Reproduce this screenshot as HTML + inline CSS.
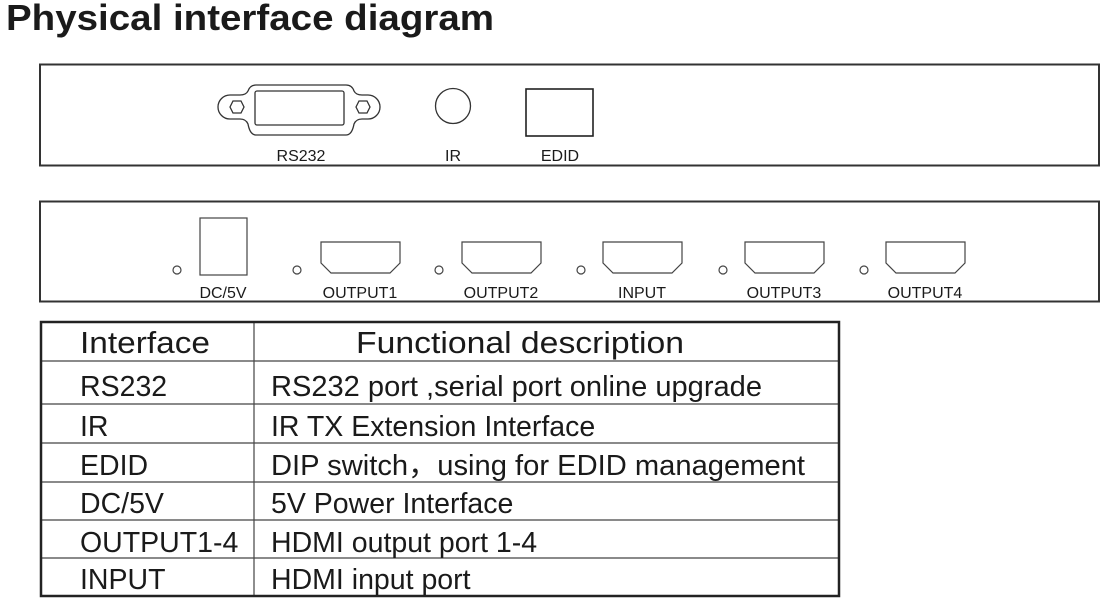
<!DOCTYPE html>
<html><head><meta charset="utf-8"><style>
html,body{margin:0;padding:0;background:#fff;}
svg{display:block;}
text{font-family:"Liberation Sans","Noto Sans CJK SC",sans-serif;fill:#1a1a1a;}
</style></head><body>
<svg width="1112" height="600" viewBox="0 0 1112 600" xmlns="http://www.w3.org/2000/svg">
<text x="6" y="30" font-size="36" font-weight="bold" textLength="488" lengthAdjust="spacingAndGlyphs">Physical interface diagram</text>
<!-- panel 1 -->
<rect x="40" y="64.5" width="1059" height="101" fill="none" stroke="#333" stroke-width="2"/>
<g fill="none" stroke="#333" stroke-width="1.3">
<path d="M256,85 L346,85 Q352,85 354,91 Q356,95 362,95 L368,95 A12,12 0 0 1 368,119 L362,119 Q356,119 354,124 Q352,135 346,135 L256,135 Q250,135 248,124 Q246,119 240,119 L230,119 A12,12 0 0 1 230,95 L240,95 Q246,95 248,91 Q250,85 256,85 Z"/>
<rect x="255" y="91" width="89" height="34" rx="2"/>
<polygon points="230,107 233,101 241,101 244,107 241,113 233,113"/>
<polygon points="356,107 359,101 367,101 370,107 367,113 359,113"/>
<circle cx="453" cy="106" r="17.5"/>
<rect x="526" y="89" width="67" height="47" stroke="#222" stroke-width="1.6"/>
</g>
<text x="301" y="161" font-size="16" text-anchor="middle">RS232</text>
<text x="453" y="161" font-size="16" text-anchor="middle">IR</text>
<text x="560" y="161" font-size="16" text-anchor="middle">EDID</text>
<!-- panel 2 -->
<rect x="40" y="201.5" width="1059" height="100" fill="none" stroke="#333" stroke-width="2"/>
<g fill="none" stroke="#444" stroke-width="1.2">
<rect x="200" y="218" width="47" height="57"/>
<circle cx="177" cy="270" r="4"/>
<circle cx="297" cy="270" r="4"/><circle cx="439" cy="270" r="4"/><circle cx="581" cy="270" r="4"/><circle cx="723" cy="270" r="4"/><circle cx="864" cy="270" r="4"/>
<g id="h"><path d="M321,242 L400,242 L400,263 L390,273 L331,273 L321,263 Z"/></g>
<use href="#h" x="141"/><use href="#h" x="282"/><use href="#h" x="424"/><use href="#h" x="565"/>
</g>
<text x="223" y="298" font-size="16" text-anchor="middle">DC/5V</text>
<text x="360" y="298" font-size="16" text-anchor="middle">OUTPUT1</text>
<text x="501" y="298" font-size="16" text-anchor="middle">OUTPUT2</text>
<text x="642" y="298" font-size="16" text-anchor="middle">INPUT</text>
<text x="784" y="298" font-size="16" text-anchor="middle">OUTPUT3</text>
<text x="925" y="298" font-size="16" text-anchor="middle">OUTPUT4</text>
<!-- table -->
<g stroke="#444" stroke-width="1.2">
<line x1="41" y1="361" x2="839" y2="361"/><line x1="41" y1="404" x2="839" y2="404"/>
<line x1="41" y1="443" x2="839" y2="443"/><line x1="41" y1="482" x2="839" y2="482"/>
<line x1="41" y1="520" x2="839" y2="520"/><line x1="41" y1="558" x2="839" y2="558"/>
<line x1="254" y1="322" x2="254" y2="596"/>
</g>
<rect x="41" y="322" width="798" height="274" fill="none" stroke="#222" stroke-width="2.5"/>
<g font-size="31">
<text x="80" y="353" textLength="130" lengthAdjust="spacingAndGlyphs">Interface</text>
<text x="356" y="353" textLength="328" lengthAdjust="spacingAndGlyphs">Functional description</text>
</g>
<g font-size="28.5">
<text x="80" y="396">RS232</text><text x="271" y="396" textLength="491" lengthAdjust="spacingAndGlyphs">RS232 port ,serial port online upgrade</text>
<text x="80" y="436">IR</text><text x="271" y="436">IR TX Extension Interface</text>
<text x="80" y="475">EDID</text><text x="271" y="475" textLength="534" lengthAdjust="spacingAndGlyphs">DIP switch，using for EDID management</text>
<text x="80" y="513">DC/5V</text><text x="271" y="513">5V Power Interface</text>
<text x="80" y="552">OUTPUT1-4</text><text x="271" y="552">HDMI output port 1-4</text>
<text x="80" y="589">INPUT</text><text x="271" y="589">HDMI input port</text>
</g>
</svg>
</body></html>
